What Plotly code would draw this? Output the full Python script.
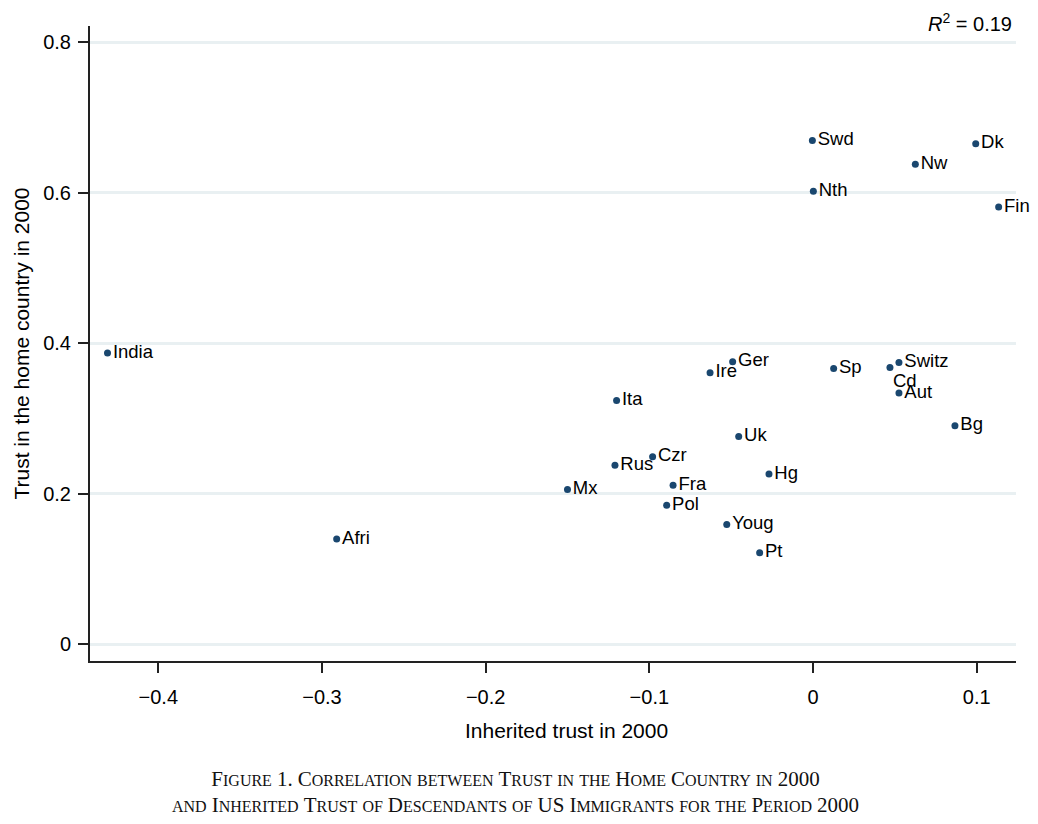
import plotly.graph_objects as go

countries = ["India", "Afri", "Mx", "Rus", "Ita", "Czr", "Fra", "Pol", "Youg", "Pt",
             "Ire", "Ger", "Uk", "Hg", "Sp", "Cd", "Switz", "Aut", "Bg",
             "Swd", "Nth", "Nw", "Dk", "Fin"]
inherited_trust = [-0.431, -0.291, -0.150, -0.121, -0.120, -0.098, -0.0855, -0.0894, -0.0527, -0.0326,
                   -0.0629, -0.0491, -0.0454, -0.0269, 0.0126, 0.0470, 0.0525, 0.0525, 0.0867,
                   -0.0004, 0.0002, 0.0625, 0.0994, 0.1134]
home_trust = [0.387, 0.140, 0.2055, 0.2377, 0.324, 0.2493, 0.2112, 0.1846, 0.159, 0.1214,
              0.3608, 0.3754, 0.2762, 0.2263, 0.3665, 0.3679, 0.3745, 0.3339, 0.2904,
              0.6693, 0.6021, 0.638, 0.665, 0.5809]
below_labels = ["Cd"]  # labels drawn below-right of their marker

x_ticks = [-0.4, -0.3, -0.2, -0.1, 0, 0.1]
x_ticktext = ["−0.4", "−0.3", "−0.2", "−0.1", "0", "0.1"]
y_ticks = [0, 0.2, 0.4, 0.6, 0.8]
y_ticktext = ["0", "0.2", "0.4", "0.6", "0.8"]

NAVY = "#1a476f"
FONT = "Liberation Sans, Arial, Helvetica, sans-serif"
SERIF = "Liberation Serif, Times New Roman, serif"


def small_caps(text, big=21, small=16):
    out = []
    for word in text.split(" "):
        if not word:
            continue
        if word.isupper() and len(word) > 1:
            out.append(f"<span style='font-size:{big}px'>{word}</span>")
            continue
        first, rest = word[0], word[1:]
        if first.isupper() or first.isdigit():
            piece = f"<span style='font-size:{big}px'>{first}</span>"
        else:
            piece = f"<span style='font-size:{small}px'>{first.upper()}</span>"
        buf = ""
        for ch in rest:
            if ch.isdigit() or ch == ".":
                if buf:
                    piece += f"<span style='font-size:{small}px'>{buf.upper()}</span>"
                    buf = ""
                piece += f"<span style='font-size:{big}px'>{ch}</span>"
            else:
                buf += ch
        if buf:
            piece += f"<span style='font-size:{small}px'>{buf.upper()}</span>"
        out.append(piece)
    return " ".join(out)


main_idx = [i for i, c in enumerate(countries) if c not in below_labels]
below_idx = [i for i, c in enumerate(countries) if c in below_labels]

fig = go.Figure()
fig.add_trace(go.Scatter(
    x=[inherited_trust[i] for i in main_idx],
    y=[home_trust[i] for i in main_idx],
    text=[countries[i] for i in main_idx],
    mode="markers+text", textposition="middle right",
    marker=dict(color=NAVY, size=7),
    textfont=dict(family=FONT, size=18.5, color="#000"),
    showlegend=False, cliponaxis=False,
))
fig.add_trace(go.Scatter(
    x=[inherited_trust[i] for i in below_idx],
    y=[home_trust[i] for i in below_idx],
    mode="markers", marker=dict(color=NAVY, size=7),
    showlegend=False, cliponaxis=False,
))

annotations = [
    dict(xref="x", yref="y", x=inherited_trust[i], y=home_trust[i], text=countries[i],
         xanchor="left", yanchor="top", xshift=1, yshift=-1, showarrow=False,
         font=dict(family=FONT, size=18.5, color="#000"))
    for i in below_idx
]
annotations += [
    dict(xref="paper", yref="paper", x=1.0, y=1.0, xanchor="right", yanchor="top",
         xshift=-2, yshift=18, text="<i>R</i><sup>2</sup> = 0.19", showarrow=False,
         font=dict(size=20, family=FONT, color="#000")),
    dict(xref="paper", yref="paper", x=0.515, y=-0.1094, xanchor="center", yanchor="middle",
         text="Inherited trust in 2000", showarrow=False,
         font=dict(size=21, family=FONT, color="#000")),
    dict(xref="paper", yref="paper", x=0.46, y=-0.207, xanchor="center", yanchor="middle",
         text=small_caps("Figure 1. Correlation between Trust in the Home Country in 2000") + "<br>" +
              small_caps("and Inherited Trust of Descendants of US Immigrants for the Period 2000"),
         showarrow=False, align="center",
         font=dict(family=SERIF, size=20, color="#111")),
]

fig.update_layout(
    width=1030, height=816, autosize=False,
    paper_bgcolor="white", plot_bgcolor="white",
    margin=dict(l=82, r=22, t=18, b=162.5),
    font=dict(family=FONT, color="#000"),
    xaxis=dict(
        range=[-0.4417, 0.124], tickvals=x_ticks, ticktext=x_ticktext,
        showgrid=False, zeroline=False,
        showline=True, linecolor="#222", linewidth=2,
        ticks="outside", ticklen=10, tickwidth=1.5, tickcolor="#222",
        tickfont=dict(size=20), ticklabelstandoff=7,
    ),
    yaxis=dict(
        range=[-0.0223, 0.8216], tickvals=y_ticks, ticktext=y_ticktext,
        showgrid=True, gridcolor="#e9f0f2", gridwidth=2.5, zeroline=False,
        showline=True, linecolor="#222", linewidth=2,
        ticks="outside", ticklen=10, tickwidth=1.5, tickcolor="#222",
        tickfont=dict(size=20), ticklabelstandoff=3,
        title=dict(text="Trust in the home country in 2000", font=dict(size=21), standoff=8),
    ),
    annotations=annotations,
)

fig.write_html("out.html")
